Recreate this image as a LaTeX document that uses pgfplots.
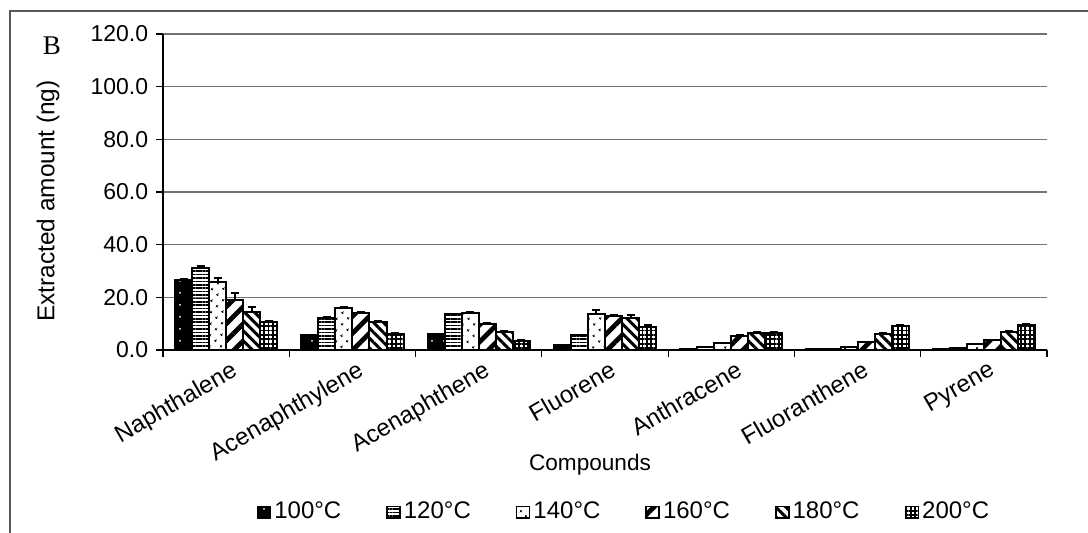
\documentclass[border=0pt]{standalone}
\usepackage{fontspec}
\setmainfont{Liberation Sans}
\newfontfamily\seriffont{Liberation Serif}
\usepackage{pgfplots}
\usepackage{pgfplotstable}
\pgfplotsset{compat=1.18}
\usetikzlibrary{patterns.meta}

% Extracted amounts (ng) and their deviations, one column pair per temperature
\pgfplotstableread{
x  a100 e100 a120 e120 a140 e140 a160 e160 a180 e180 a200 e200
0  26.4 0.4  31.2 0.8  25.8 1.6  19.0 2.5  14.6 1.8  10.8 0.3
1  5.7  0.0  12.3 0.3  16.0 0.5  14.0 0.4  10.7 0.4  6.2  0.3
2  6.0  0.2  13.5 0.3  14.1 0.4  10.0 0.3  6.8  0.4  3.5  0.2
3  2.0  0.0  5.7  0.0  13.5 1.7  12.9 0.4  12.1 1.1  8.6  1.0
4  0.4  0.0  1.1  0.0  2.7  0.0  5.4  0.3  6.4  0.3  6.5  0.4
5  0.2  0.0  0.5  0.0  1.3  0.0  3.0  0.0  6.2  0.3  9.2  0.4
6  0.4  0.0  0.8  0.0  2.1  0.0  3.8  0.0  6.8  0.4  9.6  0.4
}\pahdata

\begin{document}
\fontsize{11.3}{13}\selectfont
\begin{tikzpicture}
\useasboundingbox (0,0) rectangle (544pt,-266.5pt);
% frame of the figure
\draw[line width=0.6pt, black!65] (544pt,-5.5pt) -- (5pt,-5.5pt) -- (5pt,-266.5pt);
\node[font=\seriffont\fontsize{13.5}{15}\selectfont] at (26pt,-23pt) {B};
\node[rotate=90, font=\fontsize{12.2}{14}\selectfont] at (24pt,-100.5pt) {Extracted amount (ng)};
\node[font=\fontsize{11.3}{13}\selectfont] at (295pt,-232.5pt) {Compounds};

\begin{axis}[
  at={(81.5pt,-175pt)}, anchor=south west,
  scale only axis, width=442pt, height=158pt,
  xmin=-0.5, xmax=6.5, ymin=0, ymax=120,
  axis x line*=bottom, axis y line*=left,
  axis line style={line width=0.6pt, -},
  xtick={-0.5,0.5,...,6.5},
  x tick label as interval,
  xticklabels={Naphthalene,Acenaphthylene,Acenaphthene,Fluorene,Anthracene,Fluoranthene,Pyrene},
  xticklabel style={rotate=30, anchor=north east, inner sep=1pt, yshift=-1pt, xshift=2pt,
    font=\fontsize{12}{14}\selectfont},
  ytick={0,20,...,120},
  yticklabel style={/pgf/number format/.cd, fixed, fixed zerofill, precision=1, assume math mode=true},
  tick label style={font=\fontsize{11.5}{13}\selectfont},
  tick align=outside, major tick length=3.5pt,
  tick style={line width=0.6pt, black},
  ymajorgrids, grid style={line width=0.7pt, black!55},
  ybar, bar width=0.135,
  every axis plot/.append style={draw=black, line width=1pt,
    error bars/y dir=plus, error bars/y explicit,
    error bars/error bar style={line width=1pt, black},
    error bars/error mark options={rotate=90, mark size=2pt, line width=1pt, black}},
  legend columns=6,
  legend style={draw=none, fill=none, at={(axis description cs:0.522,-0.513)}, anchor=center,
    /tikz/every even column/.append style={column sep=21pt},
    font=\fontsize{12}{14}\selectfont, inner sep=0pt,
    nodes={inner sep=1.5pt}},
  legend image code/.code={\draw[#1, line width=0.8pt] (0pt,-2.8pt) rectangle (6.5pt,2.8pt);},
]
\addplot[bar shift=-0.3375, fill=black,
  postaction={pattern={Dots[distance=6pt,radius=0.5pt]}, pattern color=white}]
  table[x=x, y=a100, y error=e100] {\pahdata};
\addplot[bar shift=-0.2025, pattern={Lines[angle=0,distance=1.7pt,line width=0.8pt]}]
  table[x=x, y=a120, y error=e120] {\pahdata};
\addplot[bar shift=-0.0675, fill=white, postaction={pattern={Dots[distance=4pt,angle=45,radius=0.7pt]}}]
  table[x=x, y=a140, y error=e140] {\pahdata};
\addplot[bar shift=0.0675, fill=white, postaction={pattern={Lines[angle=45,distance=6pt,line width=2.4pt]}}]
  table[x=x, y=a160, y error=e160] {\pahdata};
\addplot[bar shift=0.2025, fill=white, postaction={pattern={Lines[angle=-45,distance=3.5pt,line width=1.5pt]}}]
  table[x=x, y=a180, y error=e180] {\pahdata};
\addplot[bar shift=0.3375, fill=white, postaction={pattern={Hatch[angle=0,distance=2.2pt,line width=0.9pt]}}]
  table[x=x, y=a200, y error=e200] {\pahdata};
\legend{100°C,120°C,140°C,160°C,180°C,200°C}
\end{axis}
\end{tikzpicture}
\end{document}
